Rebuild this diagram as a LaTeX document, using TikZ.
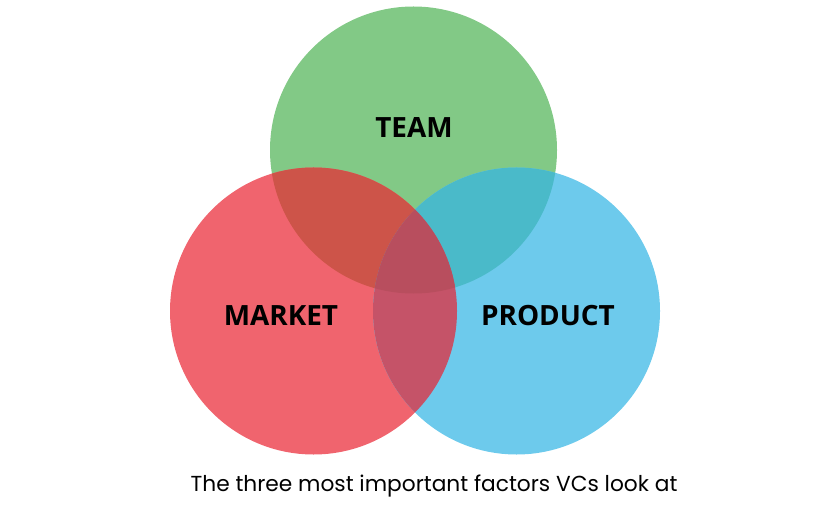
\documentclass[tikz,border=0pt]{standalone}
\usepackage{fontspec}
\setmainfont{Poppins}
\newfontfamily\labelfont{Open Sans}
\definecolor{cgreen}{HTML}{82C986}
\definecolor{cred}{HTML}{F0646E}
\definecolor{cblue}{HTML}{6DCAEC}
\definecolor{crg}{HTML}{CD5449}
\definecolor{cgb}{HTML}{4ABAC9}
\definecolor{crb}{HTML}{C55368}
\definecolor{crgb}{HTML}{B84E5E}
\tikzset{
  lab/.style={font=\labelfont\bfseries\fontsize{28}{30}\selectfont, text=black, inner sep=0pt},
  captiontext/.style={font=\fontsize{21.8}{24}\selectfont, text=black, inner sep=0pt}
}
\begin{document}
\begin{tikzpicture}[x=1bp,y=-1bp]
\useasboundingbox (0,0) rectangle (840,509);
\def\R{143.5bp}
\coordinate (T) at (413.5,150);
\coordinate (M) at (313.5,311);
\coordinate (P) at (516.5,311);
\fill[cgreen] (T) circle[radius=\R];
\fill[cred] (M) circle[radius=\R];
\fill[cblue] (P) circle[radius=\R];
\begin{scope}
  \clip (T) circle[radius=\R];
  \fill[crg] (M) circle[radius=\R];
  \fill[cgb] (P) circle[radius=\R];
\end{scope}
\begin{scope}
  \clip (M) circle[radius=\R];
  \fill[crb] (P) circle[radius=\R];
\end{scope}
\begin{scope}
  \clip (T) circle[radius=\R];
  \clip (M) circle[radius=\R];
  \fill[crgb] (P) circle[radius=\R];
\end{scope}
\node[lab] (team) at (414,128) {TEAM};
\node[lab] (market) at (281,316) {MARKET};
\node[lab] (product) at (548,316) {PRODUCT};
\node[captiontext] (caption) at (434,486) {The three most important factors VCs look at};
\end{tikzpicture}
\end{document}
